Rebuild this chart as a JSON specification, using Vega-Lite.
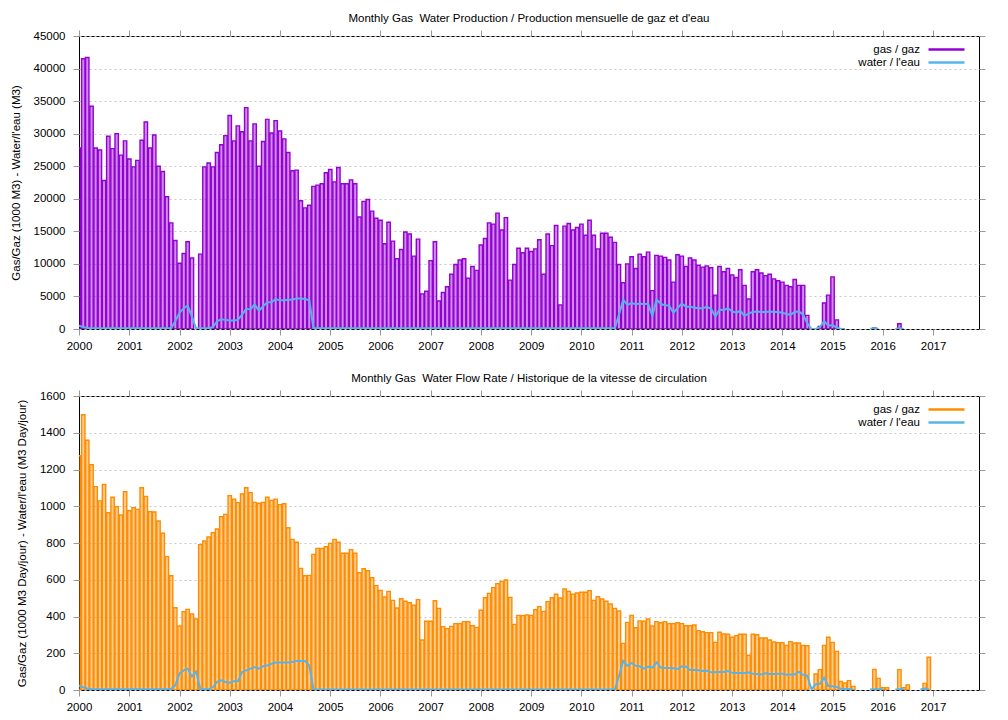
{
  "$schema": "https://vega.github.io/schema/vega-lite/v6.json",
  "background": "white",
  "padding": {"left": 9, "top": 12, "right": 5, "bottom": 5},
  "config": {
    "font": "Liberation Sans",
    "view": {"stroke": "black", "strokeWidth": 1},
    "axis": {
      "labelFontSize": 11.5, "titleFontSize": 11.5, "labelColor": "black", "titleColor": "black",
      "titleFontWeight": "normal", "domain": false, "tickColor": "#999999", "tickSize": 6,
      "grid": false, "labelFlush": false, "labelOverlap": false
    },
    "title": {"fontSize": 11.5, "fontWeight": "normal", "anchor": "middle", "color": "black"},
    "legend": {
      "orient": "none", "legendX": 860, "legendY": 6, "title": null,
      "symbolType": "M-3,0L3,0", "symbolSize": 144, "symbolStrokeWidth": 2.5,
      "labelAlign": "right", "labelOffset": -34, "labelFontSize": 11.5, "labelColor": "black",
      "rowPadding": 0, "labelLimit": 0, "padding": 0
    }
  },
  "datasets": {
    "wells": [
      {"d": "2000-01-01", "gas": 27800, "water": 500, "gas_rate": 1275, "water_rate": 25},
      {"d": "2000-02-01", "gas": 41500, "water": 300, "gas_rate": 1498, "water_rate": 15},
      {"d": "2000-03-01", "gas": 41700, "water": 150, "gas_rate": 1359, "water_rate": 8},
      {"d": "2000-04-01", "gas": 34200, "water": 100, "gas_rate": 1226, "water_rate": 5},
      {"d": "2000-05-01", "gas": 27800, "water": 100, "gas_rate": 1107, "water_rate": 4},
      {"d": "2000-06-01", "gas": 27500, "water": 100, "gas_rate": 1029, "water_rate": 4},
      {"d": "2000-07-01", "gas": 22800, "water": 100, "gas_rate": 1119, "water_rate": 4},
      {"d": "2000-08-01", "gas": 29600, "water": 100, "gas_rate": 965, "water_rate": 4},
      {"d": "2000-09-01", "gas": 27700, "water": 100, "gas_rate": 1049, "water_rate": 4},
      {"d": "2000-10-01", "gas": 30000, "water": 100, "gas_rate": 998, "water_rate": 4},
      {"d": "2000-11-01", "gas": 26700, "water": 100, "gas_rate": 952, "water_rate": 4},
      {"d": "2000-12-01", "gas": 28900, "water": 100, "gas_rate": 1079, "water_rate": 4},
      {"d": "2001-01-01", "gas": 26100, "water": 100, "gas_rate": 976, "water_rate": 4},
      {"d": "2001-02-01", "gas": 24900, "water": 100, "gas_rate": 992, "water_rate": 4},
      {"d": "2001-03-01", "gas": 25900, "water": 100, "gas_rate": 983, "water_rate": 4},
      {"d": "2001-04-01", "gas": 29000, "water": 100, "gas_rate": 1101, "water_rate": 4},
      {"d": "2001-05-01", "gas": 31800, "water": 100, "gas_rate": 1054, "water_rate": 4},
      {"d": "2001-06-01", "gas": 27800, "water": 100, "gas_rate": 971, "water_rate": 4},
      {"d": "2001-07-01", "gas": 29800, "water": 100, "gas_rate": 969, "water_rate": 4},
      {"d": "2001-08-01", "gas": 25000, "water": 100, "gas_rate": 920, "water_rate": 4},
      {"d": "2001-09-01", "gas": 24200, "water": 100, "gas_rate": 853, "water_rate": 4},
      {"d": "2001-10-01", "gas": 20300, "water": 100, "gas_rate": 726, "water_rate": 4},
      {"d": "2001-11-01", "gas": 16300, "water": 150, "gas_rate": 622, "water_rate": 7},
      {"d": "2001-12-01", "gas": 13600, "water": 1200, "gas_rate": 448, "water_rate": 25},
      {"d": "2002-01-01", "gas": 10100, "water": 2500, "gas_rate": 348, "water_rate": 90},
      {"d": "2002-02-01", "gas": 11600, "water": 3200, "gas_rate": 426, "water_rate": 107},
      {"d": "2002-03-01", "gas": 13400, "water": 3600, "gas_rate": 439, "water_rate": 116},
      {"d": "2002-04-01", "gas": 10900, "water": 1900, "gas_rate": 414, "water_rate": 74},
      {"d": "2002-05-01", "gas": null, "water": 100, "gas_rate": 386, "water_rate": 100},
      {"d": "2002-06-01", "gas": 11500, "water": 100, "gas_rate": 791, "water_rate": 7},
      {"d": "2002-07-01", "gas": 24900, "water": 100, "gas_rate": 811, "water_rate": 4},
      {"d": "2002-08-01", "gas": 25500, "water": 100, "gas_rate": 833, "water_rate": 4},
      {"d": "2002-09-01", "gas": 24900, "water": 300, "gas_rate": 856, "water_rate": 16},
      {"d": "2002-10-01", "gas": 27100, "water": 1200, "gas_rate": 876, "water_rate": 44},
      {"d": "2002-11-01", "gas": 28300, "water": 1500, "gas_rate": 943, "water_rate": 53},
      {"d": "2002-12-01", "gas": 29700, "water": 1400, "gas_rate": 956, "water_rate": 44},
      {"d": "2003-01-01", "gas": 32800, "water": 1300, "gas_rate": 1058, "water_rate": 40},
      {"d": "2003-02-01", "gas": 28900, "water": 1300, "gas_rate": 1039, "water_rate": 47},
      {"d": "2003-03-01", "gas": 31200, "water": 1400, "gas_rate": 1020, "water_rate": 47},
      {"d": "2003-04-01", "gas": 30300, "water": 2200, "gas_rate": 1067, "water_rate": 98},
      {"d": "2003-05-01", "gas": 34000, "water": 3100, "gas_rate": 1101, "water_rate": 107},
      {"d": "2003-06-01", "gas": 28900, "water": 3000, "gas_rate": 1074, "water_rate": 116},
      {"d": "2003-07-01", "gas": 31500, "water": 3800, "gas_rate": 1021, "water_rate": 125},
      {"d": "2003-08-01", "gas": 25000, "water": 2800, "gas_rate": 1016, "water_rate": 116},
      {"d": "2003-09-01", "gas": 28800, "water": 3500, "gas_rate": 1021, "water_rate": 129},
      {"d": "2003-10-01", "gas": 32200, "water": 4100, "gas_rate": 1049, "water_rate": 134},
      {"d": "2003-11-01", "gas": 30100, "water": 4100, "gas_rate": 1032, "water_rate": 143},
      {"d": "2003-12-01", "gas": 32000, "water": 4600, "gas_rate": 1039, "water_rate": 150},
      {"d": "2004-01-01", "gas": 30400, "water": 4400, "gas_rate": 1009, "water_rate": 150},
      {"d": "2004-02-01", "gas": 29200, "water": 4400, "gas_rate": 1014, "water_rate": 150},
      {"d": "2004-03-01", "gas": 27100, "water": 4500, "gas_rate": 883, "water_rate": 150},
      {"d": "2004-04-01", "gas": 24300, "water": 4500, "gas_rate": 820, "water_rate": 152},
      {"d": "2004-05-01", "gas": 24400, "water": 4700, "gas_rate": 804, "water_rate": 158},
      {"d": "2004-06-01", "gas": 19700, "water": 4700, "gas_rate": 662, "water_rate": 158},
      {"d": "2004-07-01", "gas": 18600, "water": 4600, "gas_rate": 622, "water_rate": 158},
      {"d": "2004-08-01", "gas": 19000, "water": 4400, "gas_rate": 624, "water_rate": 134},
      {"d": "2004-09-01", "gas": 21900, "water": 100, "gas_rate": 738, "water_rate": 4},
      {"d": "2004-10-01", "gas": 22100, "water": 100, "gas_rate": 771, "water_rate": 3},
      {"d": "2004-11-01", "gas": 22300, "water": 100, "gas_rate": 771, "water_rate": 3},
      {"d": "2004-12-01", "gas": 24000, "water": 100, "gas_rate": 780, "water_rate": 3},
      {"d": "2005-01-01", "gas": 24500, "water": 100, "gas_rate": 798, "water_rate": 3},
      {"d": "2005-02-01", "gas": 22600, "water": 100, "gas_rate": 820, "water_rate": 3},
      {"d": "2005-03-01", "gas": 24800, "water": 100, "gas_rate": 804, "water_rate": 3},
      {"d": "2005-04-01", "gas": 22300, "water": 100, "gas_rate": 744, "water_rate": 3},
      {"d": "2005-05-01", "gas": 22300, "water": 100, "gas_rate": 744, "water_rate": 3},
      {"d": "2005-06-01", "gas": 22900, "water": 100, "gas_rate": 764, "water_rate": 3},
      {"d": "2005-07-01", "gas": 22300, "water": 100, "gas_rate": 744, "water_rate": 3},
      {"d": "2005-08-01", "gas": 17200, "water": 100, "gas_rate": 639, "water_rate": 3},
      {"d": "2005-09-01", "gas": 19600, "water": 100, "gas_rate": 660, "water_rate": 3},
      {"d": "2005-10-01", "gas": 19900, "water": 100, "gas_rate": 649, "water_rate": 3},
      {"d": "2005-11-01", "gas": 18100, "water": 100, "gas_rate": 611, "water_rate": 3},
      {"d": "2005-12-01", "gas": 17000, "water": 100, "gas_rate": 568, "water_rate": 3},
      {"d": "2006-01-01", "gas": 16700, "water": 100, "gas_rate": 542, "water_rate": 3},
      {"d": "2006-02-01", "gas": 13100, "water": 100, "gas_rate": 506, "water_rate": 3},
      {"d": "2006-03-01", "gas": 16400, "water": 100, "gas_rate": 537, "water_rate": 3},
      {"d": "2006-04-01", "gas": 13500, "water": 100, "gas_rate": 488, "water_rate": 3},
      {"d": "2006-05-01", "gas": 10800, "water": 100, "gas_rate": 446, "water_rate": 3},
      {"d": "2006-06-01", "gas": 12200, "water": 100, "gas_rate": 497, "water_rate": 3},
      {"d": "2006-07-01", "gas": 14900, "water": 100, "gas_rate": 483, "water_rate": 3},
      {"d": "2006-08-01", "gas": 14600, "water": 100, "gas_rate": 475, "water_rate": 3},
      {"d": "2006-09-01", "gas": 11200, "water": 100, "gas_rate": 461, "water_rate": 3},
      {"d": "2006-10-01", "gas": 13800, "water": 100, "gas_rate": 492, "water_rate": 3},
      {"d": "2006-11-01", "gas": 5400, "water": 100, "gas_rate": 272, "water_rate": 3},
      {"d": "2006-12-01", "gas": 5800, "water": 100, "gas_rate": 374, "water_rate": 3},
      {"d": "2007-01-01", "gas": 10500, "water": 100, "gas_rate": 374, "water_rate": 3},
      {"d": "2007-02-01", "gas": 13400, "water": 100, "gas_rate": 486, "water_rate": 3},
      {"d": "2007-03-01", "gas": 4300, "water": 100, "gas_rate": 444, "water_rate": 3},
      {"d": "2007-04-01", "gas": 5600, "water": 100, "gas_rate": 345, "water_rate": 3},
      {"d": "2007-05-01", "gas": 6500, "water": 100, "gas_rate": 334, "water_rate": 3},
      {"d": "2007-06-01", "gas": 8400, "water": 100, "gas_rate": 346, "water_rate": 3},
      {"d": "2007-07-01", "gas": 9900, "water": 100, "gas_rate": 361, "water_rate": 3},
      {"d": "2007-08-01", "gas": 10600, "water": 100, "gas_rate": 361, "water_rate": 3},
      {"d": "2007-09-01", "gas": 10800, "water": 100, "gas_rate": 372, "water_rate": 3},
      {"d": "2007-10-01", "gas": 7800, "water": 100, "gas_rate": 372, "water_rate": 3},
      {"d": "2007-11-01", "gas": 9600, "water": 100, "gas_rate": 350, "water_rate": 3},
      {"d": "2007-12-01", "gas": 9000, "water": 100, "gas_rate": 341, "water_rate": 3},
      {"d": "2008-01-01", "gas": 12900, "water": 100, "gas_rate": 434, "water_rate": 3},
      {"d": "2008-02-01", "gas": 13900, "water": 100, "gas_rate": 502, "water_rate": 3},
      {"d": "2008-03-01", "gas": 16300, "water": 100, "gas_rate": 526, "water_rate": 3},
      {"d": "2008-04-01", "gas": 16100, "water": 100, "gas_rate": 557, "water_rate": 3},
      {"d": "2008-05-01", "gas": 17800, "water": 100, "gas_rate": 579, "water_rate": 3},
      {"d": "2008-06-01", "gas": 15200, "water": 100, "gas_rate": 591, "water_rate": 3},
      {"d": "2008-07-01", "gas": 17100, "water": 100, "gas_rate": 599, "water_rate": 3},
      {"d": "2008-08-01", "gas": 7500, "water": 100, "gas_rate": 504, "water_rate": 3},
      {"d": "2008-09-01", "gas": 9900, "water": 100, "gas_rate": 357, "water_rate": 3},
      {"d": "2008-10-01", "gas": 12400, "water": 100, "gas_rate": 406, "water_rate": 3},
      {"d": "2008-11-01", "gas": 11700, "water": 100, "gas_rate": 405, "water_rate": 3},
      {"d": "2008-12-01", "gas": 12400, "water": 100, "gas_rate": 408, "water_rate": 3},
      {"d": "2009-01-01", "gas": 11900, "water": 100, "gas_rate": 406, "water_rate": 3},
      {"d": "2009-02-01", "gas": 12300, "water": 100, "gas_rate": 437, "water_rate": 3},
      {"d": "2009-03-01", "gas": 13700, "water": 100, "gas_rate": 454, "water_rate": 3},
      {"d": "2009-04-01", "gas": 8400, "water": 100, "gas_rate": 428, "water_rate": 3},
      {"d": "2009-05-01", "gas": 14600, "water": 100, "gas_rate": 481, "water_rate": 3},
      {"d": "2009-06-01", "gas": 12800, "water": 100, "gas_rate": 502, "water_rate": 3},
      {"d": "2009-07-01", "gas": 15900, "water": 100, "gas_rate": 521, "water_rate": 3},
      {"d": "2009-08-01", "gas": 3700, "water": 100, "gas_rate": 501, "water_rate": 3},
      {"d": "2009-09-01", "gas": 15800, "water": 100, "gas_rate": 550, "water_rate": 3},
      {"d": "2009-10-01", "gas": 16200, "water": 100, "gas_rate": 537, "water_rate": 3},
      {"d": "2009-11-01", "gas": 15200, "water": 100, "gas_rate": 521, "water_rate": 3},
      {"d": "2009-12-01", "gas": 15600, "water": 100, "gas_rate": 528, "water_rate": 3},
      {"d": "2010-01-01", "gas": 16100, "water": 100, "gas_rate": 532, "water_rate": 3},
      {"d": "2010-02-01", "gas": 14400, "water": 100, "gas_rate": 532, "water_rate": 3},
      {"d": "2010-03-01", "gas": 16700, "water": 100, "gas_rate": 541, "water_rate": 3},
      {"d": "2010-04-01", "gas": 14400, "water": 100, "gas_rate": 488, "water_rate": 3},
      {"d": "2010-05-01", "gas": 12300, "water": 100, "gas_rate": 508, "water_rate": 3},
      {"d": "2010-06-01", "gas": 14700, "water": 100, "gas_rate": 495, "water_rate": 3},
      {"d": "2010-07-01", "gas": 14700, "water": 100, "gas_rate": 483, "water_rate": 3},
      {"d": "2010-08-01", "gas": 14100, "water": 100, "gas_rate": 468, "water_rate": 3},
      {"d": "2010-09-01", "gas": 13300, "water": 100, "gas_rate": 444, "water_rate": 3},
      {"d": "2010-10-01", "gas": 9900, "water": 2200, "gas_rate": 430, "water_rate": 75},
      {"d": "2010-11-01", "gas": 7100, "water": 4500, "gas_rate": 254, "water_rate": 158},
      {"d": "2010-12-01", "gas": 10000, "water": 3700, "gas_rate": 368, "water_rate": 131},
      {"d": "2011-01-01", "gas": 11100, "water": 4000, "gas_rate": 406, "water_rate": 147},
      {"d": "2011-02-01", "gas": 9300, "water": 3800, "gas_rate": 339, "water_rate": 132},
      {"d": "2011-03-01", "gas": 11500, "water": 3900, "gas_rate": 376, "water_rate": 129},
      {"d": "2011-04-01", "gas": 11100, "water": 3800, "gas_rate": 374, "water_rate": 116},
      {"d": "2011-05-01", "gas": 11800, "water": 3900, "gas_rate": 386, "water_rate": 127},
      {"d": "2011-06-01", "gas": 5900, "water": 2000, "gas_rate": 348, "water_rate": 122},
      {"d": "2011-07-01", "gas": 11300, "water": 4500, "gas_rate": 372, "water_rate": 150},
      {"d": "2011-08-01", "gas": 11200, "water": 3900, "gas_rate": 366, "water_rate": 122},
      {"d": "2011-09-01", "gas": 11000, "water": 3600, "gas_rate": 372, "water_rate": 120},
      {"d": "2011-10-01", "gas": 10600, "water": 3600, "gas_rate": 361, "water_rate": 120},
      {"d": "2011-11-01", "gas": 7200, "water": 2500, "gas_rate": 361, "water_rate": 118},
      {"d": "2011-12-01", "gas": 11400, "water": 3200, "gas_rate": 366, "water_rate": 114},
      {"d": "2012-01-01", "gas": 11200, "water": 3900, "gas_rate": 361, "water_rate": 129},
      {"d": "2012-02-01", "gas": 9600, "water": 3400, "gas_rate": 350, "water_rate": 127},
      {"d": "2012-03-01", "gas": 10900, "water": 3400, "gas_rate": 350, "water_rate": 109},
      {"d": "2012-04-01", "gas": 10600, "water": 3300, "gas_rate": 354, "water_rate": 109},
      {"d": "2012-05-01", "gas": 9800, "water": 3200, "gas_rate": 323, "water_rate": 107},
      {"d": "2012-06-01", "gas": 9500, "water": 3200, "gas_rate": 317, "water_rate": 103},
      {"d": "2012-07-01", "gas": 9700, "water": 3400, "gas_rate": 312, "water_rate": 105},
      {"d": "2012-08-01", "gas": 9400, "water": 3100, "gas_rate": 312, "water_rate": 96},
      {"d": "2012-09-01", "gas": 5200, "water": 1900, "gas_rate": 259, "water_rate": 96},
      {"d": "2012-10-01", "gas": 9600, "water": 3000, "gas_rate": 314, "water_rate": 98},
      {"d": "2012-11-01", "gas": 8800, "water": 2900, "gas_rate": 305, "water_rate": 98},
      {"d": "2012-12-01", "gas": 9300, "water": 3200, "gas_rate": 303, "water_rate": 103},
      {"d": "2013-01-01", "gas": 8300, "water": 2700, "gas_rate": 287, "water_rate": 94},
      {"d": "2013-02-01", "gas": 7900, "water": 2500, "gas_rate": 296, "water_rate": 93},
      {"d": "2013-03-01", "gas": 9100, "water": 2800, "gas_rate": 303, "water_rate": 93},
      {"d": "2013-04-01", "gas": 6700, "water": 2000, "gas_rate": 303, "water_rate": 93},
      {"d": "2013-05-01", "gas": 4600, "water": 2400, "gas_rate": 189, "water_rate": 96},
      {"d": "2013-06-01", "gas": 8800, "water": 2600, "gas_rate": 303, "water_rate": 89},
      {"d": "2013-07-01", "gas": 9100, "water": 2700, "gas_rate": 301, "water_rate": 87},
      {"d": "2013-08-01", "gas": 8600, "water": 2600, "gas_rate": 283, "water_rate": 85},
      {"d": "2013-09-01", "gas": 8200, "water": 2600, "gas_rate": 283, "water_rate": 91},
      {"d": "2013-10-01", "gas": 8400, "water": 2700, "gas_rate": 272, "water_rate": 87},
      {"d": "2013-11-01", "gas": 7700, "water": 2600, "gas_rate": 261, "water_rate": 87},
      {"d": "2013-12-01", "gas": 7400, "water": 2600, "gas_rate": 258, "water_rate": 89},
      {"d": "2014-01-01", "gas": 7200, "water": 2500, "gas_rate": 258, "water_rate": 89},
      {"d": "2014-02-01", "gas": 6700, "water": 2300, "gas_rate": 243, "water_rate": 83},
      {"d": "2014-03-01", "gas": 6500, "water": 2200, "gas_rate": 263, "water_rate": 85},
      {"d": "2014-04-01", "gas": 7600, "water": 2600, "gas_rate": 256, "water_rate": 85},
      {"d": "2014-05-01", "gas": 6700, "water": 2700, "gas_rate": 256, "water_rate": 100},
      {"d": "2014-06-01", "gas": 6700, "water": 2200, "gas_rate": 243, "water_rate": 82},
      {"d": "2014-07-01", "gas": 2100, "water": 900, "gas_rate": 241, "water_rate": 78},
      {"d": "2014-08-01", "gas": null, "water": 0, "gas_rate": null, "water_rate": 4},
      {"d": "2014-09-01", "gas": null, "water": 0, "gas_rate": 87, "water_rate": 31},
      {"d": "2014-10-01", "gas": 400, "water": 300, "gas_rate": 111, "water_rate": 34},
      {"d": "2014-11-01", "gas": 4000, "water": 1200, "gas_rate": 243, "water_rate": 67},
      {"d": "2014-12-01", "gas": 5200, "water": 500, "gas_rate": 287, "water_rate": 22},
      {"d": "2015-01-01", "gas": 8000, "water": 600, "gas_rate": 259, "water_rate": 20},
      {"d": "2015-02-01", "gas": 1400, "water": 200, "gas_rate": 210, "water_rate": 16},
      {"d": "2015-03-01", "gas": null, "water": 50, "gas_rate": 47, "water_rate": 7},
      {"d": "2015-04-01", "gas": null, "water": 0, "gas_rate": 38, "water_rate": 5},
      {"d": "2015-05-01", "gas": null, "water": null, "gas_rate": 51, "water_rate": 5},
      {"d": "2015-06-01", "gas": null, "water": null, "gas_rate": 20, "water_rate": 2},
      {"d": "2015-07-01", "gas": null, "water": null, "gas_rate": null, "water_rate": null},
      {"d": "2015-08-01", "gas": null, "water": null, "gas_rate": null, "water_rate": null},
      {"d": "2015-09-01", "gas": null, "water": null, "gas_rate": null, "water_rate": null},
      {"d": "2015-10-01", "gas": null, "water": 50, "gas_rate": null, "water_rate": 3},
      {"d": "2015-11-01", "gas": 150, "water": 80, "gas_rate": 112, "water_rate": 4},
      {"d": "2015-12-01", "gas": null, "water": 50, "gas_rate": 63, "water_rate": 4},
      {"d": "2016-01-01", "gas": null, "water": null, "gas_rate": 13, "water_rate": 4},
      {"d": "2016-02-01", "gas": null, "water": null, "gas_rate": 13, "water_rate": null},
      {"d": "2016-03-01", "gas": null, "water": null, "gas_rate": null, "water_rate": null},
      {"d": "2016-04-01", "gas": null, "water": 0, "gas_rate": null, "water_rate": 3},
      {"d": "2016-05-01", "gas": 800, "water": 100, "gas_rate": 111, "water_rate": 4},
      {"d": "2016-06-01", "gas": null, "water": 0, "gas_rate": 13, "water_rate": 4},
      {"d": "2016-07-01", "gas": null, "water": null, "gas_rate": 27, "water_rate": null},
      {"d": "2016-08-01", "gas": null, "water": null, "gas_rate": null, "water_rate": null},
      {"d": "2016-09-01", "gas": null, "water": null, "gas_rate": null, "water_rate": null},
      {"d": "2016-10-01", "gas": null, "water": null, "gas_rate": null, "water_rate": 3},
      {"d": "2016-11-01", "gas": null, "water": null, "gas_rate": 36, "water_rate": 8},
      {"d": "2016-12-01", "gas": null, "water": null, "gas_rate": 178, "water_rate": 6}
    ]
  },
  "bounds": "flush",
  "spacing": 67,
  "resolve": {"scale": {"stroke": "independent"}, "legend": {"stroke": "independent"}},
  "vconcat": [
    {
      "width": 900,
      "height": 293,
      "title": {"text": "Monthly Gas\u00a0 Water Production / Production mensuelle de gaz et d'eau", "offset": 5},
      "data": {"name": "wells"},
      "layer": [
        {
          "mark": {"type": "bar", "width": 3.4, "clip": true, "fill": "#9400d3", "fillOpacity": 0.45, "strokeWidth": 1.4},
          "encoding": {
            "x": {
              "field": "d", "type": "temporal",
              "scale": {"domain": [{"year": 2000, "month": 1, "date": 1}, {"year": 2017, "month": 12, "date": 1}], "nice": false, "padding": 0},
              "axis": {"format": "%Y", "tickCount": {"interval": "year", "step": 1}, "title": null, "labelPadding": 5}
            },
            "y": {
              "field": "gas", "type": "quantitative",
              "scale": {"domain": [0, 45000], "nice": false},
              "axis": {
                "values": [0, 5000, 10000, 15000, 20000, 25000, 30000, 35000, 40000, 45000],
                "format": "d",
                "grid": true, "gridDash": [2, 3], "gridColor": "#c8c8c8",
                "labelPadding": 8, "titlePadding": 12,
                "title": "Gas/Gaz (1000 M3) - Water/l'eau (M3)"
              }
            },
            "stroke": {
              "datum": "gas / gaz",
              "scale": {"domain": ["gas / gaz", "water / l'eau"], "range": ["#9400d3", "#56b4e9"]}
            }
          }
        },
        {
          "mark": {"type": "line", "strokeWidth": 2, "clip": true},
          "encoding": {
            "x": {
              "field": "d", "type": "temporal",
              "scale": {"domain": [{"year": 2000, "month": 1, "date": 1}, {"year": 2017, "month": 12, "date": 1}], "nice": false, "padding": 0},
              "axis": {"orient": "top", "labels": false, "title": null, "tickCount": {"interval": "year", "step": 1}}
            },
            "y": {
              "field": "water", "type": "quantitative",
              "scale": {"domain": [0, 45000], "nice": false},
              "axis": {"orient": "right", "labels": false, "title": null, "values": [0, 5000, 10000, 15000, 20000, 25000, 30000, 35000, 40000, 45000]}
            },
            "stroke": {"datum": "water / l'eau"}
          }
        }
      ],
      "resolve": {"axis": {"x": "independent", "y": "independent"}}
    },
    {
      "width": 900,
      "height": 294,
      "title": {"text": "Monthly Gas\u00a0 Water Flow Rate / Historique de la vitesse de circulation", "offset": 5},
      "data": {"name": "wells"},
      "layer": [
        {
          "mark": {"type": "bar", "width": 3.4, "clip": true, "fill": "#ff8c00", "fillOpacity": 0.45, "strokeWidth": 1.4},
          "encoding": {
            "x": {
              "field": "d", "type": "temporal",
              "scale": {"domain": [{"year": 2000, "month": 1, "date": 1}, {"year": 2017, "month": 12, "date": 1}], "nice": false, "padding": 0},
              "axis": {"format": "%Y", "tickCount": {"interval": "year", "step": 1}, "title": null, "labelPadding": 5}
            },
            "y": {
              "field": "gas_rate", "type": "quantitative",
              "scale": {"domain": [0, 1600], "nice": false},
              "axis": {
                "values": [0, 200, 400, 600, 800, 1000, 1200, 1400, 1600],
                "format": "d",
                "grid": true, "gridDash": [2, 3], "gridColor": "#c8c8c8",
                "labelPadding": 8, "titlePadding": 12,
                "title": "Gas/Gaz (1000 M3 Day/jour) - Water/l'eau (M3 Day/jour)"
              }
            },
            "stroke": {
              "datum": "gas / gaz",
              "scale": {"domain": ["gas / gaz", "water / l'eau"], "range": ["#ff8c00", "#56b4e9"]}
            }
          }
        },
        {
          "mark": {"type": "line", "strokeWidth": 2, "clip": true},
          "encoding": {
            "x": {
              "field": "d", "type": "temporal",
              "scale": {"domain": [{"year": 2000, "month": 1, "date": 1}, {"year": 2017, "month": 12, "date": 1}], "nice": false, "padding": 0},
              "axis": {"orient": "top", "labels": false, "title": null, "tickCount": {"interval": "year", "step": 1}}
            },
            "y": {
              "field": "water_rate", "type": "quantitative",
              "scale": {"domain": [0, 1600], "nice": false},
              "axis": {"orient": "right", "labels": false, "title": null, "values": [0, 200, 400, 600, 800, 1000, 1200, 1400, 1600]}
            },
            "stroke": {"datum": "water / l'eau"}
          }
        }
      ],
      "resolve": {"axis": {"x": "independent", "y": "independent"}}
    }
  ]
}
